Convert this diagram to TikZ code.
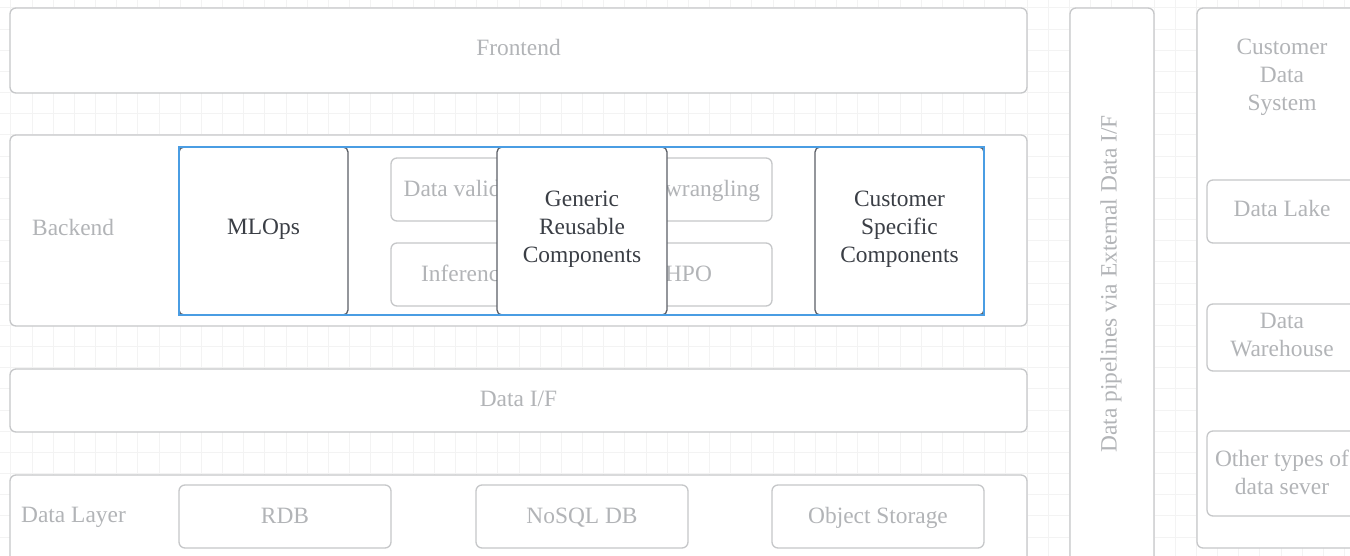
\documentclass[tikz,border=0pt]{standalone}
\usepackage{fontspec}
\setmainfont{Liberation Serif}
\definecolor{gridc}{HTML}{F3F3F3}
\definecolor{faintc}{HTML}{C6C7C9}
\definecolor{ftxt}{HTML}{B2B4B7}
\definecolor{darkc}{HTML}{5B5F66}
\definecolor{dtxt}{HTML}{3A3E45}
\definecolor{selc}{HTML}{4A9DE3}
\begin{document}
\begin{tikzpicture}[x=1pt,y=-1pt,
  fbox/.style={draw=faintc, line width=1.3pt, rounded corners=6pt, fill=white, anchor=north west, inner sep=0pt, outer sep=0pt},
  dbox/.style={draw=darkc, line width=1.3pt, rounded corners=5pt, fill=white, anchor=north west, inner sep=0pt, outer sep=0pt},
  tfont/.style={font=\fontsize{23.4}{28}\selectfont, inner sep=0pt},
  flbl/.style={tfont, text=ftxt, text height=15.5pt, text depth=0pt},
  dlbl/.style={tfont, text=dtxt, text height=15.5pt, text depth=0pt},
  fml/.style={tfont, text=ftxt, align=center},
  dml/.style={tfont, text=dtxt, align=center}]
\useasboundingbox (0,0) rectangle (1350,556);
\clip (0,0) rectangle (1350,556);
\fill[white] (0,0) rectangle (1350,556);
\foreach \i in {0,...,64} \draw[gridc, line width=0.7pt] ({10.8+\i*21.17},0) -- ({10.8+\i*21.17},556);
\foreach \i in {0,...,26} \draw[gridc, line width=0.7pt] (0,{7.7+\i*21.17}) -- (1350,{7.7+\i*21.17});

% Frontend
\node[fbox, minimum width=1017pt, minimum height=85pt] (fe) at (10,8) {};
\node[flbl] (fet) at (518.5,48) {Frontend};
% Backend
\node[fbox, minimum width=1017pt, minimum height=191pt] (be) at (10,135) {};
\node[flbl, anchor=west] (belbl) at (32,228) {Backend};
% faint inner boxes
\node[fbox, minimum width=169pt, minimum height=63pt] (dv) at (391,158) {};
\node[flbl] (dvt) at (475.5,189) {Data validation};
\node[fbox, minimum width=169pt, minimum height=63pt] (dw) at (603,158) {};
\node[flbl] (dwt) at (687.5,189) {Data wrangling};
\node[fbox, minimum width=169pt, minimum height=63pt] (inf) at (391,243) {};
\node[flbl, anchor=west] (inft) at (421,274) {Inference};
\node[fbox, minimum width=169pt, minimum height=63pt] (hpo) at (603,243) {};
\node[flbl] (hpot) at (688.5,273.5) {HPO};
% dark boxes
\node[dbox, minimum width=169pt, minimum height=168pt] (mlops) at (179,147) {};
\node[dlbl] (mlopst) at (263.5,227) {MLOps};
\node[dbox, minimum width=170pt, minimum height=168pt] (gen) at (497,147) {};
\node[dml] (gent) at (582,229) {Generic\\Reusable\\Components};
\node[dbox, minimum width=169pt, minimum height=168pt] (cus) at (815,147) {};
\node[dml] (cust) at (899.5,229) {Customer\\Specific\\Components};
% selection
\draw[selc, line width=1.8pt] (mlops.north west) rectangle (cus.south east);
% Data I/F
\node[fbox, minimum width=1017pt, minimum height=63pt] (dif) at (10,369) {};
\node[flbl] (dift) at (518.5,399) {Data I/F};
% Data layer
\node[fbox, minimum width=1017pt, minimum height=110pt] (dl) at (10,475) {};
\node[flbl, anchor=west] (dllbl) at (21,515) {Data Layer};
\node[fbox, minimum width=212pt, minimum height=63pt] (rdb) at (179,485) {};
\node[flbl] (rdbt) at (285,516) {RDB};
\node[fbox, minimum width=212pt, minimum height=63pt] (nosql) at (476,485) {};
\node[flbl] (nosqlt) at (582,516) {NoSQL DB};
\node[fbox, minimum width=212pt, minimum height=63pt] (obj) at (772,485) {};
\node[flbl] (objt) at (878,516) {Object Storage};
% pipelines
\node[fbox, minimum width=84pt, minimum height=600pt] (pipe) at (1070,8) {};
\node[tfont, text=ftxt, rotate=90] (pipet) at (1111,284) {Data pipelines via External Data I/F};
% customer data system
\node[fbox, minimum width=200pt, minimum height=540pt] (cds) at (1197,8) {};
\node[fml] (cdst) at (1282,77) {Customer\\Data\\System};
\node[fbox, minimum width=150pt, minimum height=63pt] (lake) at (1207,180) {};
\node[flbl] (laket) at (1282,209) {Data Lake};
\node[fbox, minimum width=150pt, minimum height=67pt] (wh) at (1207,304) {};
\node[fml] (wht) at (1282,335.5) {Data\\Warehouse};
\node[fbox, minimum width=150pt, minimum height=85pt] (oth) at (1207,431) {};
\node[fml] (otht) at (1282,472) {Other types of\\data sever};
\end{tikzpicture}
\end{document}
